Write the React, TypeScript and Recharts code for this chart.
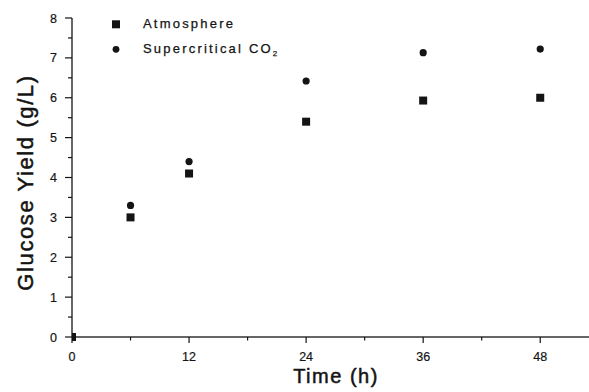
import React from "react";
import { ScatterChart, Scatter, XAxis, YAxis, Legend } from "recharts";

const times = [0, 6, 12, 24, 36, 48];
const atmosphere = [0, 3.0, 4.1, 5.4, 5.93, 6.0];
const supercritical = [0, 3.3, 4.4, 6.42, 7.13, 7.22];

const xTicks = [0, 6, 12, 18, 24, 30, 36, 42, 48];
const yTicks = [0, 0.5, 1, 1.5, 2, 2.5, 3, 3.5, 4, 4.5, 5, 5.5, 6, 6.5, 7, 7.5, 8];
const seriesNames = ["Atmosphere", "Supercritical CO"];
const subscript = "2";
const xLabel = "Time (h)";
const yLabel = "Glucose Yield (g/L)";

const atmData = times.map((t, i) => ({ t, v: atmosphere[i] }));
const scData = times.map((t, i) => ({ t, v: supercritical[i] }));

const FONT = "'Liberation Sans', Arial, Helvetica, sans-serif";
const INK = "#141414";

const SquareShape = (p: any) => (
  <rect x={p.cx - 4} y={p.cy - 4} width={8} height={8} fill={INK} />
);
const CircleShape = (p: any) => <circle cx={p.cx} cy={p.cy} r={3.6} fill={INK} />;

const YTick = (p: any) => {
  const v = p.payload.value;
  const major = Number.isInteger(v);
  return (
    <g>
      <line x1={p.x - (major ? 7 : 4)} x2={p.x} y1={p.y} y2={p.y} stroke={INK} strokeWidth={1.2} />
      {major && (
        <text x={p.x - 15} y={p.y + 4.5} textAnchor="end" fontSize={12.5} fontFamily={FONT} fill={INK} stroke={INK} strokeWidth={0.2}>
          {v}
        </text>
      )}
    </g>
  );
};

const XTick = (p: any) => {
  const v = p.payload.value;
  const major = v % 12 === 0;
  return (
    <g>
      <line x1={p.x} x2={p.x} y1={p.y} y2={p.y + (major ? 6 : 3.5)} stroke={INK} strokeWidth={1.2} />
      {major && (
        <text x={p.x} y={p.y + 24} textAnchor="middle" fontSize={12.5} fontFamily={FONT} fill={INK} stroke={INK} strokeWidth={0.2}>
          {v}
        </text>
      )}
    </g>
  );
};

const LegendContent = () => (
  <svg width={200} height={56} style={{ display: "block" }}>
    <rect x={12} y={14.3} width={8} height={8} fill={INK} />
    <text x={43} y={22} fontSize={13} letterSpacing={2.2} fontFamily={FONT} fill={INK} stroke={INK} strokeWidth={0.25}>
      {seriesNames[0]}
    </text>
    <circle cx={16} cy={43.3} r={3.4} fill={INK} />
    <text x={43} y={47} fontSize={13} letterSpacing={2.2} fontFamily={FONT} fill={INK} stroke={INK} strokeWidth={0.25}>
      {seriesNames[1]}
      <tspan fontSize={8} dy={3}>{subscript}</tspan>
    </text>
  </svg>
);

export default function App() {
  return (
    <div style={{ position: "absolute", left: 0, top: 0, background: "#fff" }}>
      <ScatterChart width={589} height={392} margin={{ top: 18, right: 0, bottom: 0, left: 0 }}>
        <XAxis
          type="number"
          dataKey="t"
          domain={[0, 53]}
          ticks={xTicks}
          height={55}
          tickSize={0}
          tickMargin={0}
          tickLine={false}
          axisLine={{ stroke: "#333", strokeWidth: 1.3 }}
          tick={<XTick />}
          interval={0}
          allowDataOverflow
          label={{
            content: (lp: any) => {
              const vb = lp.viewBox;
              return (
                <text
                  x={336}
                  y={vb.y + 46}
                  textAnchor="middle"
                  fontSize={20}
                  letterSpacing={1.5}
                  fontFamily={FONT}
                  fill={INK}
                  stroke={INK}
                  strokeWidth={0.5}
                >
                  {xLabel}
                </text>
              );
            },
          }}
        />
        <YAxis
          type="number"
          dataKey="v"
          domain={[0, 8]}
          ticks={yTicks}
          width={72}
          tickSize={0}
          tickMargin={0}
          tickLine={false}
          axisLine={{ stroke: INK, strokeWidth: 1.3 }}
          tick={<YTick />}
          interval={0}
          label={{
            content: (lp: any) => {
              const vb = lp.viewBox;
              const cy = vb.y + vb.height / 2 + 5;
              return (
                <text
                  x={33}
                  y={cy}
                  transform={`rotate(-90, 33, ${cy})`}
                  textAnchor="middle"
                  fontSize={22}
                  letterSpacing={1.6}
                  fontFamily={FONT}
                  fill={INK}
                  stroke={INK}
                  strokeWidth={0.5}
                >
                  {yLabel}
                </text>
              );
            },
          }}
        />
        <Legend
          layout="vertical"
          align="center"
          verticalAlign="middle"
          content={<LegendContent />}
          wrapperStyle={{ left: 100, top: 6, width: 200, height: 56 }}
        />
        <Scatter name={seriesNames[0]} data={atmData} shape={SquareShape} isAnimationActive={false} />
        <Scatter name={seriesNames[1]} data={scData} shape={CircleShape} isAnimationActive={false} />
      </ScatterChart>
    </div>
  );
}
